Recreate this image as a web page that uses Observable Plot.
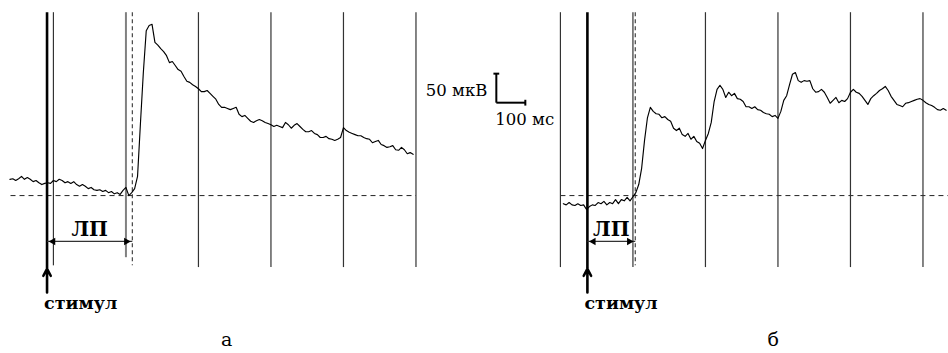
<!DOCTYPE html>
<html>
<head>
<meta charset="utf-8">
<script src="https://cdn.jsdelivr.net/npm/d3@7"></script>
<script src="https://cdn.jsdelivr.net/npm/@observablehq/plot@0.6"></script>
<style>
  html, body { margin: 0; padding: 0; background: #fff; }
  #chart svg { display: block; }
</style>
</head>
<body>
<div id="chart"></div>
<script>
// Panels
const panels = ["а", "б"];

// Sampled potentials (µV), one sample every dt ms (time from the first time mark)
const dt = 10;
const traceStartA = -150;
const traceA = [
  28, 29, 26, 29, 33, 28, 31, 28, 24, 26,
  22, 19, 21, 22, 21, 26, 24, 28, 26, 22,
  24, 21, 24, 19, 16, 19, 16, 12, 14, 10,
  9, 10, 7, 9, 5, 7, 3, 5, 2, 9,
  14, 0, 5, 12, 33, 124, 212, 284, 293, 295,
  264, 259, 253, 248, 241, 229, 231, 224, 217, 214,
  205, 197, 195, 191, 188, 184, 179, 179, 181, 176,
  171, 166, 157, 152, 152, 150, 148, 150, 152, 140,
  136, 138, 133, 128, 126, 129, 131, 129, 126, 124,
  122, 119, 121, 119, 117, 126, 122, 116, 121, 124,
  119, 114, 110, 110, 112, 107, 105, 100, 100, 102,
  98, 97, 95, 97, 100, 117, 112, 109, 107, 105,
  103, 103, 100, 98, 97, 91, 93, 95, 88, 86,
  83, 84, 86, 79, 78, 83, 79, 72, 74, 71
];
const traceStartB = 10;
const traceB = [
  -14, -16, -12, -16, -17, -14, -17, -16, -24, -19,
  -16, -17, -12, -14, -10, -16, -12, -14, -7, -14,
  -7, -9, -3, -9, -2, 5, 19, 47, 95, 134,
  152, 145, 141, 140, 134, 136, 131, 128, 116, 112,
  116, 105, 102, 107, 97, 102, 93, 90, 81, 95,
  107, 126, 162, 183, 190, 183, 169, 178, 172, 176,
  167, 166, 162, 153, 153, 150, 153, 148, 147, 143,
  141, 140, 136, 138, 133, 145, 164, 172, 191, 209,
  212, 198, 195, 198, 197, 198, 184, 178, 179, 183,
  178, 169, 159, 164, 169, 160, 164, 162, 167, 178,
  183, 178, 176, 171, 164, 157, 167, 172, 176, 181,
  184, 188, 181, 171, 164, 157, 155, 153, 159, 160,
  162, 164, 166, 167, 164, 160, 157, 155, 152, 148,
  147, 150, 147
];

// Time marks (ms) and event times
const gridTimes = [0, 250, 500, 750, 1000, 1250];
const gridTop = 315;
const gridBottomA = [-121, -107, -124, -124, -124, -124];
const gridBottomB = [-124, -124, -124, -124, -124, -124];
const stimulusTimes = [-22, 93];     // stimulus onset per panel
const responseTimes = [272, 258];    // response onset per panel (dashed)
const baselineSpans = [[-148, 1250], [0, 1338]];
const stimTop = 315, stimArrowTip = -126, stimBottom = -167;
const latencyLevel = -79;
const latencyTextLevel = -69;
const stimTextLevel = -195;
const panelLabelTimes = [597, 734];
const panelLabelLevel = -259;

// Scale bar (drawn in panel б)
const barTime = -221, barDuration = 100;
const barLevel = 160, barAmplitude = 50;
const barLabels = ["50 мкВ", "100 мс"];

// ---- tables ----
const traceRows = [
  ...traceA.map((v, i) => ({panel: "а", t: traceStartA + i * dt, v})),
  ...traceB.map((v, i) => ({panel: "б", t: traceStartB + i * dt, v}))
];
const gridRows = [
  ...gridTimes.map((t, i) => ({panel: "а", t, top: gridTop, bottom: gridBottomA[i], gray: i === 1})),
  ...gridTimes.map((t, i) => ({panel: "б", t, top: gridTop, bottom: gridBottomB[i], gray: false}))
];
const eventRows = panels.map((p, i) => ({
  panel: p, stim: stimulusTimes[i], resp: responseTimes[i],
  b1: baselineSpans[i][0], b2: baselineSpans[i][1],
  mid: (stimulusTimes[i] + responseTimes[i]) / 2,
  label: p, labelT: panelLabelTimes[i]
}));
const bar = [{panel: "б"}];

const serif = "DejaVu Serif";

const chart = Plot.plot({
  width: 948,
  height: 353,
  marginLeft: 10, marginRight: 0, marginTop: 0, marginBottom: 0,
  x: {domain: [-148, 1338], axis: null},
  y: {domain: [-272, 336], axis: null},
  fx: {domain: panels, axis: null, paddingInner: 0.15, paddingOuter: 0},
  style: {fontFamily: serif, background: "#fff", color: "#000"},
  marks: [
    Plot.link(eventRows, {fx: "panel", x1: "b1", x2: "b2", y1: 0, y2: 0,
      stroke: "#222", strokeWidth: 1, strokeDasharray: "5,4"}),
    Plot.ruleX(gridRows.filter(d => !d.gray), {fx: "panel", x: "t", y1: "top", y2: "bottom",
      stroke: "#333", strokeWidth: 1.2}),
    Plot.ruleX(gridRows.filter(d => d.gray), {fx: "panel", x: "t", y1: "top", y2: "bottom",
      stroke: "#808080", strokeWidth: 2}),
    Plot.ruleX(eventRows, {fx: "panel", x: "resp", y1: gridTop, y2: gridBottomA[0],
      stroke: "#333", strokeWidth: 1.1, strokeDasharray: "4,3"}),
    Plot.ruleX(eventRows, {fx: "panel", x: "stim", y1: stimTop, y2: stimArrowTip,
      stroke: "#000", strokeWidth: 2.6}),
    Plot.arrow(eventRows, {fx: "panel", x1: "stim", x2: "stim", y1: stimBottom, y2: stimArrowTip,
      stroke: "#000", strokeWidth: 2.6, headLength: 10, headAngle: 55}),
    Plot.link(eventRows, {fx: "panel", x1: "stim", x2: "resp", y1: latencyLevel, y2: latencyLevel,
      stroke: "#333", strokeWidth: 1.2}),
    Plot.dot(eventRows, {fx: "panel", x: "stim", y: latencyLevel, symbol: "triangle", r: 2.8,
      rotate: -90, dx: 6, fill: "#000", stroke: "none"}),
    Plot.dot(eventRows, {fx: "panel", x: "resp", y: latencyLevel, symbol: "triangle", r: 2.8,
      rotate: 90, dx: -6, fill: "#000", stroke: "none"}),
    Plot.text(eventRows, {fx: "panel", x: "mid", y: latencyTextLevel, text: () => "ЛП",
      lineAnchor: "bottom", fontSize: 20, fontWeight: "bold", fill: "#000", fontFamily: serif}),
    Plot.text(eventRows, {fx: "panel", x: "stim", y: stimTextLevel, text: () => "стимул",
      textAnchor: "start", dx: -3, lineAnchor: "bottom", fontSize: 17.5, fontWeight: "bold", fill: "#000", fontFamily: serif}),
    Plot.line(traceRows, {fx: "panel", x: "t", y: "v", z: "panel",
      stroke: "#000", strokeWidth: 1.15, strokeLinejoin: "round"}),
    Plot.text(eventRows, {fx: "panel", x: "labelT", y: panelLabelLevel, text: "label",
      lineAnchor: "bottom", fontSize: 19, fill: "#000", fontFamily: serif}),
    Plot.link(bar, {fx: "panel", x1: barTime, x2: barTime, y1: barLevel, y2: barLevel + barAmplitude,
      stroke: "#000", strokeWidth: 2}),
    Plot.link(bar, {fx: "panel", x1: barTime, x2: barTime + barDuration, y1: barLevel, y2: barLevel,
      stroke: "#000", strokeWidth: 2}),
    Plot.link(bar, {fx: "panel", x1: barTime - 10, x2: barTime + 10, y1: barLevel + barAmplitude, y2: barLevel + barAmplitude,
      stroke: "#000", strokeWidth: 2}),
    Plot.link(bar, {fx: "panel", x1: barTime + barDuration, x2: barTime + barDuration, y1: barLevel - 5, y2: barLevel + 5,
      stroke: "#000", strokeWidth: 2}),
    Plot.text(bar, {fx: "panel", x: barTime, y: 171, text: () => barLabels[0], dx: -9,
      textAnchor: "end", lineAnchor: "bottom", fontSize: 16.5, fill: "#000", fontFamily: serif}),
    Plot.text(bar, {fx: "panel", x: barTime, y: 122, text: () => barLabels[1], dx: -1,
      textAnchor: "start", lineAnchor: "bottom", fontSize: 16.5, fill: "#000", fontFamily: serif})
  ]
});
document.getElementById("chart").appendChild(chart);
</script>
</body>
</html>
